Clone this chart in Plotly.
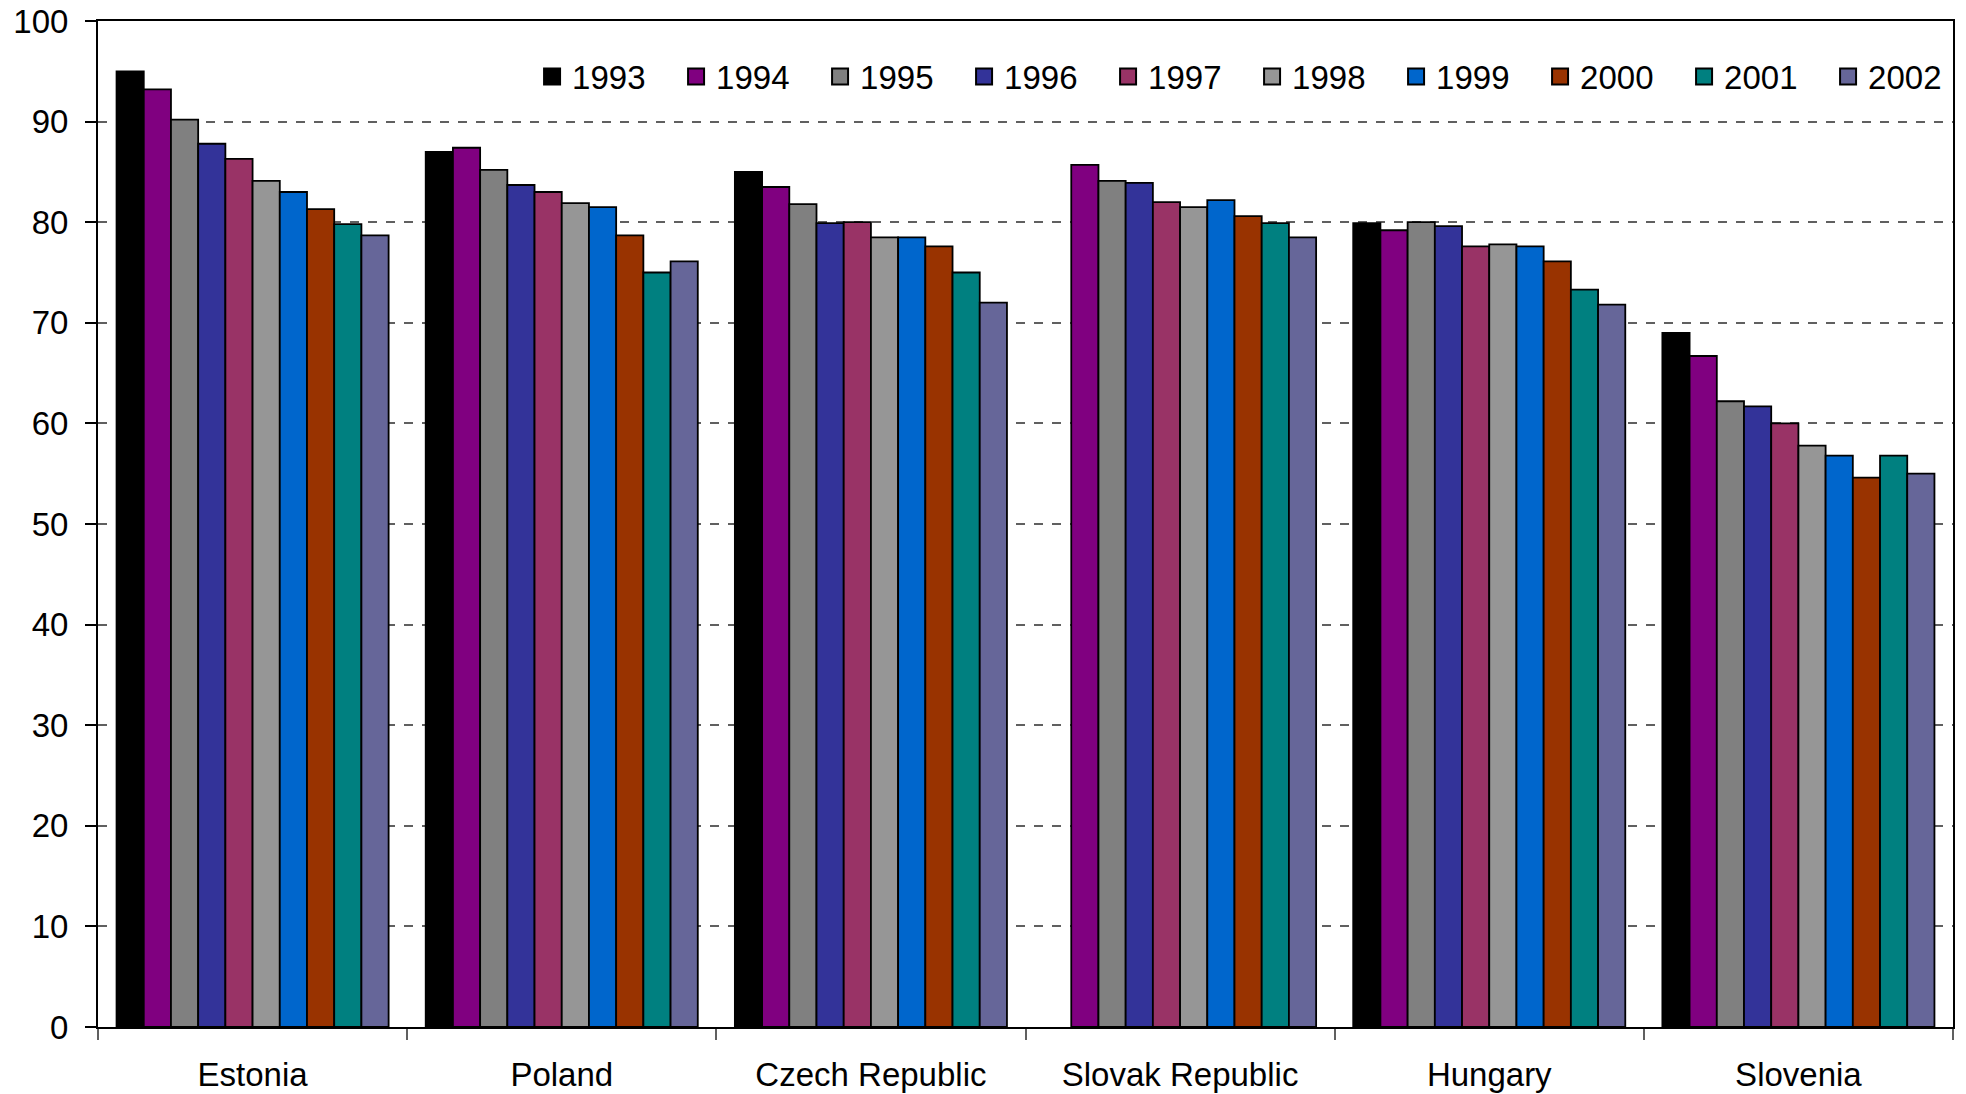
import plotly.graph_objects as go

countries = ["Estonia", "Poland", "Czech Republic", "Slovak Republic", "Hungary", "Slovenia"]
years = ["1993", "1994", "1995", "1996", "1997", "1998", "1999", "2000", "2001", "2002"]

# values per year, in the order of countries
v1993 = [95.0, 87.0, 85.0, None, 79.9, 69.0]
v1994 = [93.2, 87.4, 83.5, 85.7, 79.2, 66.7]
v1995 = [90.2, 85.2, 81.8, 84.1, 80.0, 62.2]
v1996 = [87.8, 83.7, 79.9, 83.9, 79.6, 61.7]
v1997 = [86.3, 83.0, 80.0, 82.0, 77.6, 60.0]
v1998 = [84.1, 81.9, 78.5, 81.5, 77.8, 57.8]
v1999 = [83.0, 81.5, 78.5, 82.2, 77.6, 56.8]
v2000 = [81.3, 78.7, 77.6, 80.6, 76.1, 54.6]
v2001 = [79.8, 75.0, 75.0, 79.9, 73.3, 56.8]
v2002 = [78.7, 76.1, 72.0, 78.5, 71.8, 55.0]

series = [v1993, v1994, v1995, v1996, v1997, v1998, v1999, v2000, v2001, v2002]
colors = ["#000000", "#800080", "#808080", "#333399", "#993366",
          "#969696", "#0066CC", "#993300", "#008080", "#666699"]

FONT = "Liberation Sans, Arial, sans-serif"

fig = go.Figure()
for y, vals, c in zip(years, series, colors):
    fig.add_trace(go.Bar(
        name=y, x=countries, y=vals, showlegend=False, legendgroup=y,
        marker=dict(color=c, line=dict(color="#000000", width=1.8)),
    ))
# legend entries with larger square swatches
for y, c in zip(years, colors):
    fig.add_trace(go.Scatter(
        name=y, x=[None], y=[None], mode="markers", legendgroup=y,
        marker=dict(symbol="square", size=16, color=c, line=dict(color="#000000", width=2)),
        showlegend=True, hoverinfo="skip",
    ))

fig.update_layout(
    width=1980, height=1086,
    margin=dict(l=90, r=35, t=13, b=67),
    paper_bgcolor="white", plot_bgcolor="white",
    barmode="group", bargap=0.12, bargroupgap=0,
    font=dict(family=FONT, size=33, color="black"),
    legend=dict(
        orientation="h", x=0.2340, xanchor="left", y=0.9448, yanchor="middle",
        bgcolor="rgba(0,0,0,0)", font=dict(size=33),
        entrywidth=99, entrywidthmode="pixels",
        itemsizing="trace", traceorder="normal",
    ),
    showlegend=True,
)

fig.update_yaxes(
    range=[0, 100], dtick=10, tick0=0, automargin=False, ticklabeloverflow="allow",
    showgrid=True, gridcolor="#606060", griddash="dash", gridwidth=1.5,
    showline=True, linecolor="black", linewidth=2, mirror=True,
    ticks="outside", ticklen=11, tickcolor="black", tickwidth=1.5,
    tickfont=dict(size=33, family=FONT), ticklabelstandoff=10, zeroline=False,
)
fig.update_xaxes(
    showline=True, linecolor="black", linewidth=2, mirror=True, automargin=False,
    ticklabeloverflow="allow",
    ticks="outside", tickson="boundaries", ticklen=11, tickcolor="#606060", tickwidth=1.5,
    tickfont=dict(size=33, family=FONT), ticklabelstandoff=17,
)

fig.write_html("out.html")
